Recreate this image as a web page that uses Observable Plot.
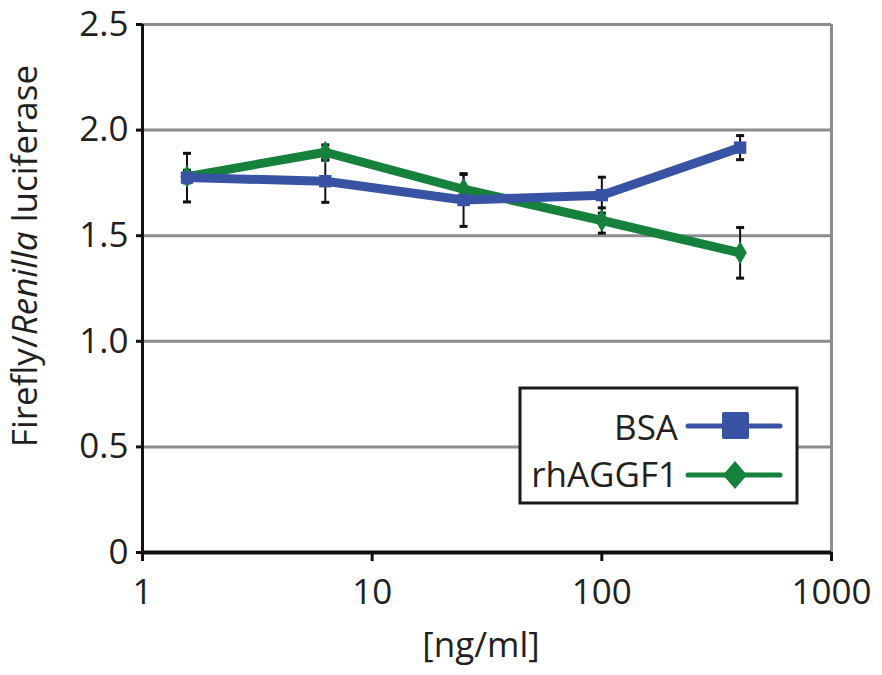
<!DOCTYPE html>
<html>
<head>
<meta charset="utf-8">
<script src="https://cdn.jsdelivr.net/npm/d3@7"></script>
<script src="https://cdn.jsdelivr.net/npm/@observablehq/plot@0.6"></script>
<style>
  html, body { margin: 0; padding: 0; background: #fff; }
  #chart { width: 882px; height: 675px; }
</style>
</head>
<body>
<div id="chart"></div>
<script>
// ---- data ----
const concentrations = [1.5625, 6.25, 25, 100, 400];
const seriesNames = ["BSA", "rhAGGF1"];
const bsaValues = [1.775, 1.758, 1.669, 1.692, 1.917];
const bsaErrors = [0.115, 0.10, 0.125, 0.085, 0.057];
const aggfValues = [1.78, 1.895, 1.72, 1.572, 1.419];
const aggfErrors = [0.03, 0.035, 0.07, 0.06, 0.12];
const xTicks = [1, 10, 100, 1000];
const yTicks = [0, 0.5, 1.0, 1.5, 2.0, 2.5];
const yTickLabels = ["0", "0.5", "1.0", "1.5", "2.0", "2.5"];

const colors = ["#3953a4", "#16803d"];

const rows = [];
concentrations.forEach((c, i) => {
  rows.push({series: "BSA", conc: c, value: bsaValues[i], err: bsaErrors[i]});
});
concentrations.forEach((c, i) => {
  rows.push({series: "rhAGGF1", conc: c, value: aggfValues[i], err: aggfErrors[i]});
});
const caps = rows.flatMap(d => [
  {conc: d.conc, y: d.value - d.err},
  {conc: d.conc, y: d.value + d.err}
]);

const capSymbol = {
  draw(ctx) { ctx.moveTo(-4, 0); ctx.lineTo(4, 0); }
};

const font = "'Open Sans', 'DejaVu Sans', sans-serif";

const svg = Plot.plot({
  width: 882,
  height: 675,
  marginLeft: 142,
  marginRight: 51,
  marginTop: 24,
  marginBottom: 123,
  style: {fontFamily: font, fontSize: "35px", color: "#231f20", background: "#fff"},
  x: {type: "log", domain: [1, 1000]},
  y: {domain: [0, 2.5]},
  color: {domain: seriesNames, range: colors},
  marks: [
    Plot.gridY(yTicks.filter(v => v > 0), {stroke: "#8c8c8c", strokeOpacity: 1, strokeWidth: 3}),
    Plot.ruleX([1000], {stroke: "#8c8c8c", strokeWidth: 3}),
    Plot.axisY(yTicks, {
      tickSize: 6, tickPadding: 8, stroke: "#111", strokeWidth: 3,
      tickFormat: (d, i) => yTickLabels[yTicks.indexOf(d)], label: null, fill: "#231f20"
    }),
    Plot.axisX(xTicks, {
      tickSize: 9, tickPadding: 18, stroke: "#111", strokeWidth: 3,
      tickFormat: d => String(d), label: null, fill: "#231f20"
    }),
    Plot.ruleY([0], {stroke: "#111", strokeWidth: 4}),
    Plot.ruleX([1], {stroke: "#111", strokeWidth: 3}),
    Plot.ruleX(rows, {x: "conc", y1: d => d.value - d.err, y2: d => d.value + d.err, stroke: "#111", strokeWidth: 2}),
    Plot.dot(caps, {x: "conc", y: "y", symbol: capSymbol, stroke: "#111", strokeWidth: 3, fill: "none"}),
    Plot.line(rows.filter(d => d.series === "rhAGGF1"), {x: "conc", y: "value", stroke: "series", strokeWidth: 9}),
    Plot.line(rows.filter(d => d.series === "BSA"), {x: "conc", y: "value", stroke: "series", strokeWidth: 9}),
    Plot.dot(rows.filter(d => d.series === "rhAGGF1"), {x: "conc", y: "value", fill: "series", symbol: "diamond", r: 7}),
    Plot.dot(rows.filter(d => d.series === "BSA"), {x: "conc", y: "value", fill: "series", symbol: "square", r: 7})
  ]
});

const s = d3.select(svg);

// y axis title with italic "Renilla"
const yt = s.append("text")
  .attr("transform", "translate(37,256) rotate(-90)")
  .attr("text-anchor", "middle")
  .attr("fill", "#231f20")
  .style("font-family", font)
  .style("font-size", "35px");
yt.append("tspan").text("Firefly/");
yt.append("tspan").style("font-style", "italic").text("Renilla");
yt.append("tspan").text(" luciferase");

// x axis title
s.append("text")
  .attr("x", 481).attr("y", 657)
  .attr("text-anchor", "middle")
  .attr("fill", "#231f20")
  .style("font-family", font)
  .style("font-size", "35px")
  .text("[ng/ml]");

// legend
const lg = s.append("g");
lg.append("rect").attr("x", 520).attr("y", 388).attr("width", 277).attr("height", 115)
  .attr("fill", "#fff").attr("stroke", "#1a1a1a").attr("stroke-width", 3);
const legendRows = [
  {name: seriesNames[0], color: colors[0], y: 426, base: 440, shape: "square"},
  {name: seriesNames[1], color: colors[1], y: 475, base: 487, shape: "diamond"}
];
legendRows.forEach(r => {
  lg.append("text").attr("x", 678).attr("y", r.base).attr("text-anchor", "end")
    .attr("fill", "#231f20").style("font-family", font).style("font-size", "35px").text(r.name);
  lg.append("line").attr("x1", 688).attr("x2", 780).attr("y1", r.y).attr("y2", r.y)
    .attr("stroke", r.color).attr("stroke-width", 5).attr("stroke-linecap", "round");
  if (r.shape === "square") {
    lg.append("rect").attr("x", 722).attr("y", r.y - 14).attr("width", 27).attr("height", 27)
      .attr("rx", 2).attr("fill", r.color);
  } else {
    const cx = 735, cy = r.y;
    lg.append("path").attr("d", `M${cx},${cy - 14}L${cx + 12},${cy}L${cx},${cy + 14}L${cx - 12},${cy}Z`)
      .attr("fill", r.color);
  }
});

document.getElementById("chart").appendChild(svg);
</script>
</body>
</html>
